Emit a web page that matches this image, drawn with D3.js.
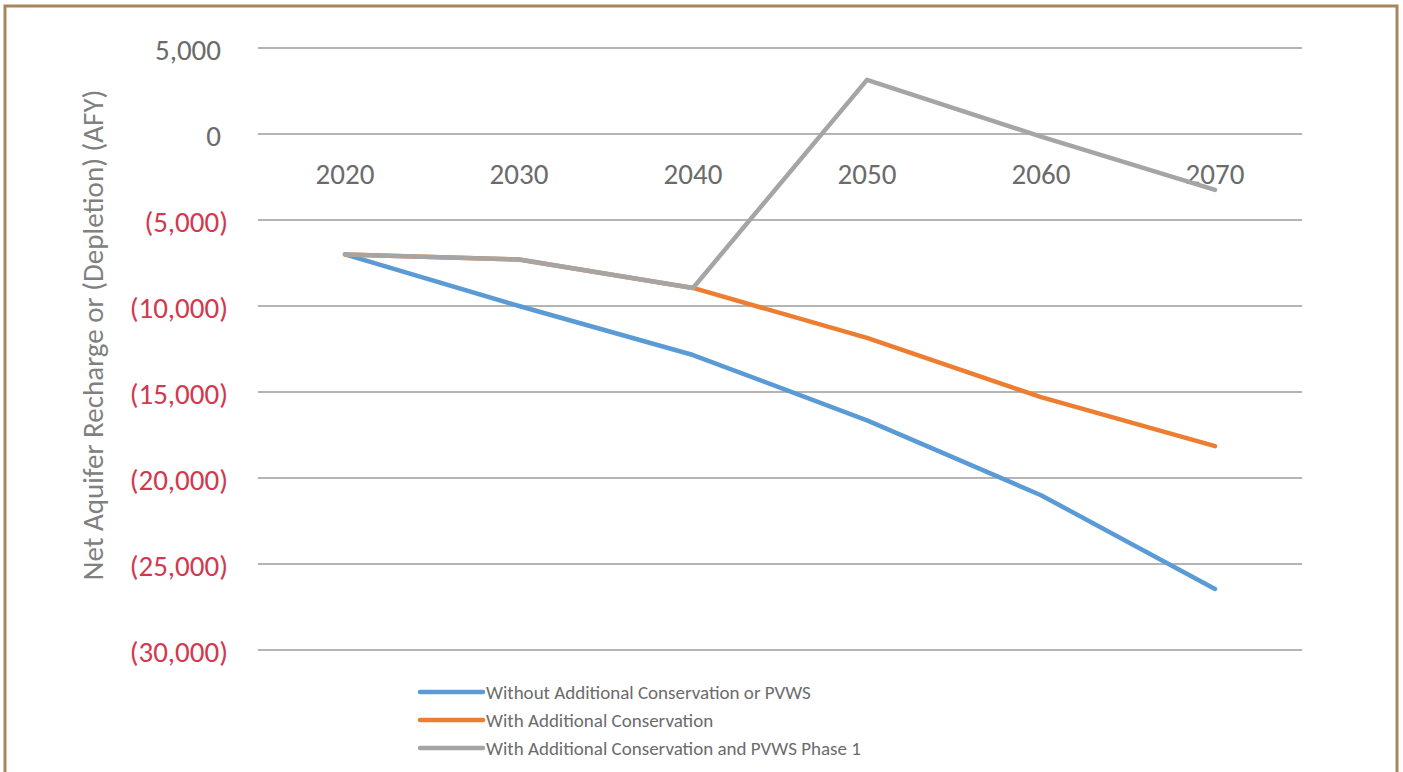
<!DOCTYPE html>
<html lang="en">

<head>
  <meta charset="UTF-8" />
  <title>Net Aquifer Recharge or (Depletion)</title>
  <script src="https://d3js.org/d3.v7.min.js"></script>
  <style>
    body {
      margin: 0;
      background: #fff;
      font-family: Carlito, Calibri, "Open Sans", sans-serif;
    }

    svg {
      display: block;
    }

    .grid line {
      stroke: #b4b4b4;
      stroke-width: 2px;
    }

    .series {
      fill: none;
      stroke-width: 4.5px;
      stroke-linejoin: round;
      stroke-linecap: round;
    }
  </style>
</head>

<body>
  <svg width="1403" height="772"></svg>

  <script>
    // data
    const years = ["2020", "2030", "2040", "2050", "2060", "2070"];
    const withoutConservation = [-7000, -10000, -12850, -16650, -21000, -26450];
    const withConservation = [-7000, -7300, -8950, -11850, -15300, -18150];
    const withConservationPvws = [-7000, -7300, -8950, 3150, -150, -3250];
    const seriesNames = [
      "Without Additional Conservation or PVWS",
      "With Additional Conservation",
      "With Additional Conservation and PVWS Phase 1"
    ];
    const seriesColors = ["#5b9bd5", "#ed7d31", "#a5a5a5"];
    const yTicks = [5000, 0, -5000, -10000, -15000, -20000, -25000, -30000];

    const svg = d3.select("svg");

    // frame
    svg.append("rect")
      .attr("x", 5)
      .attr("y", 6)
      .attr("width", 1392)
      .attr("height", 800)
      .attr("fill", "none")
      .attr("stroke", "#a8865c")
      .attr("stroke-width", 3);

    const plot = { left: 258, right: 1302, top: 48, bottom: 650 };

    const x = d3.scaleBand()
      .domain(years)
      .range([plot.left, plot.right]);

    const y = d3.scaleLinear()
      .domain([-30000, 5000])
      .range([plot.bottom, plot.top]);

    // gridlines
    svg.append("g")
      .attr("class", "grid")
      .selectAll("line")
      .data(yTicks)
      .join("line")
      .attr("x1", plot.left)
      .attr("x2", plot.right)
      .attr("y1", d => y(d))
      .attr("y2", d => y(d));

    // y tick labels: negatives in parentheses (red), positives padded like "#,##0_)"
    const fmt = d3.format(",");
    svg.append("g")
      .selectAll("text")
      .data(yTicks)
      .join("text")
      .attr("x", 228)
      .attr("dx", d => d < 0 ? 0 : -7)
      .attr("y", d => y(d) + 2)
      .attr("dy", "0.35em")
      .attr("text-anchor", "end")
      .style("font-size", "29px")
      .attr("fill", d => d < 0 ? "#d2394f" : "#6b6b6b")
      .text(d => d < 0 ? `(${fmt(-d)})` : fmt(d));

    // x labels sit just under the zero line
    svg.append("g")
      .selectAll("text")
      .data(years)
      .join("text")
      .attr("x", d => x(d) + x.bandwidth() / 2)
      .attr("y", y(0) + 40)
      .attr("dy", "0.35em")
      .attr("text-anchor", "middle")
      .style("font-size", "29px")
      .attr("fill", "#6b6b6b")
      .text(d => d);

    // y axis title
    svg.append("text")
      .attr("transform", `translate(93,335) rotate(-90)`)
      .attr("text-anchor", "middle")
      .attr("dy", "0.35em")
      .style("font-size", "29px")
      .attr("fill", "#808080")
      .text("Net Aquifer Recharge or (Depletion) (AFY)");

    // lines
    const line = d3.line()
      .x((d, i) => x(years[i]) + x.bandwidth() / 2)
      .y(d => y(d));

    const allSeries = [withoutConservation, withConservation, withConservationPvws];
    svg.append("g")
      .selectAll("path")
      .data(allSeries)
      .join("path")
      .attr("class", "series")
      .attr("stroke", (d, i) => seriesColors[i])
      .attr("d", line);

    // legend
    const legend = svg.append("g")
      .attr("transform", "translate(420,692)");
    const item = legend.selectAll("g")
      .data(seriesNames)
      .join("g")
      .attr("transform", (d, i) => `translate(0,${i * 28})`);
    item.append("line")
      .attr("x1", 0)
      .attr("x2", 63)
      .attr("stroke", (d, i) => seriesColors[i])
      .attr("stroke-width", 4.5)
      .attr("stroke-linecap", "round");
    item.append("text")
      .attr("x", 66)
      .attr("dy", "0.35em")
      .style("font-size", "19px")
      .attr("fill", "#6b6b6b")
      .text(d => d);
  </script>
</body>

</html>
